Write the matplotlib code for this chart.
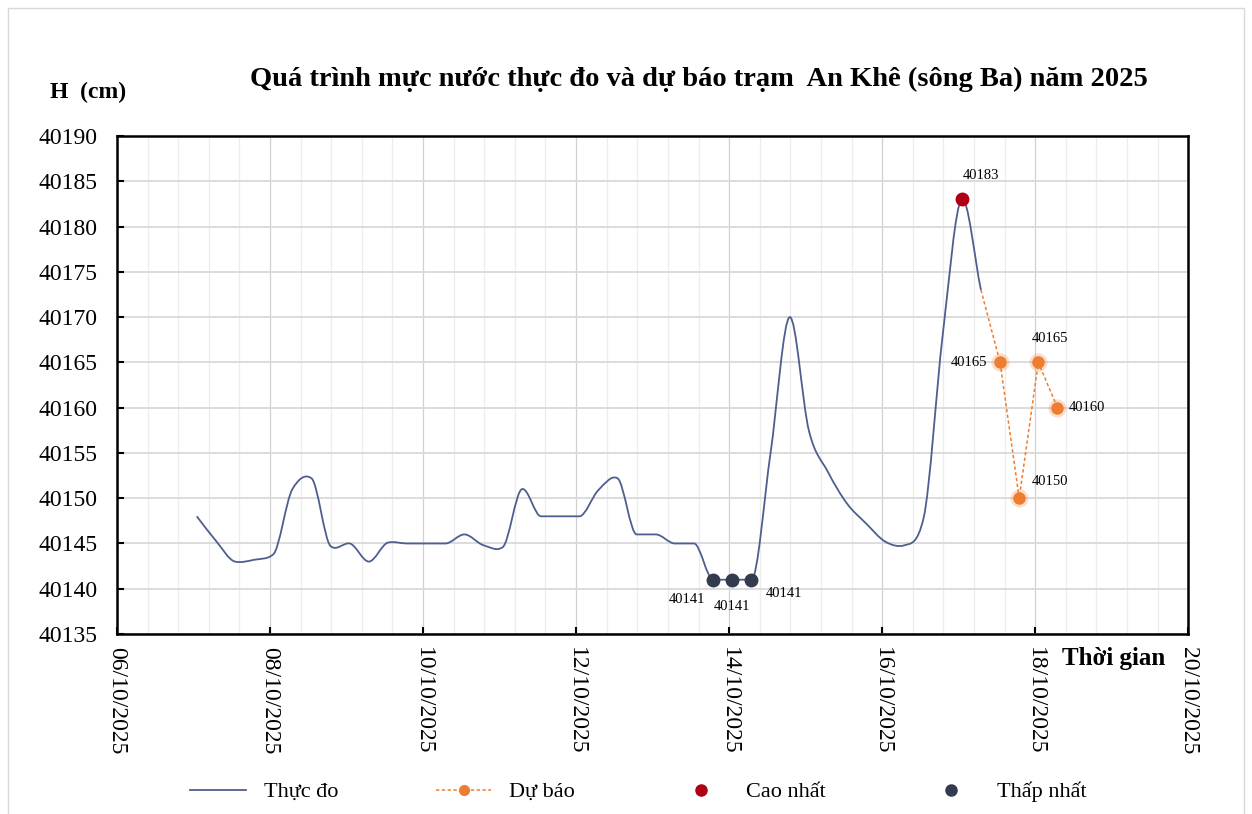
import numpy as np
import pandas as pd
import matplotlib
matplotlib.use('Agg')
import matplotlib.pyplot as plt
import matplotlib.dates as mdates
from matplotlib.path import Path
from matplotlib.patches import PathPatch, Rectangle
from matplotlib.lines import Line2D

plt.rcParams['font.family'] = ['Liberation Serif', 'DejaVu Serif']

# ---- data (6-hourly) ----
obs_start = '2025-10-07 01:00'
obs_H = [40148, 40145.3, 40143, 40143.2, 40143.8, 40151, 40152.2, 40144.7, 40145, 40143,
         40145.1, 40145, 40145, 40145, 40146, 40144.8, 40144.6, 40151, 40148, 40148,
         40148, 40150.9, 40152.2, 40146, 40146, 40145, 40145, 40141, 40141, 40141,
         40155, 40170, 40157.5, 40152.9, 40149.4, 40147.2, 40145.2, 40144.8, 40147.8, 40168,
         40183, 40173]
fc_start = '2025-10-17 07:00'
fc_H = [40173, 40165, 40150, 40165, 40160]
fc_lbl = [None, '40165', '40150', '40165', '40160']
max_idx = [40]
min_idx = [27, 28, 29]

obs_t = pd.date_range(obs_start, periods=len(obs_H), freq='6h')
fc_t = pd.date_range(fc_start, periods=len(fc_H), freq='6h')

C_OBS = '#4e5f8f'; C_FC = '#ed7d31'; C_MAX = '#b00014'; C_MIN = '#323c4e'

def smooth_path(x, y):
    # excel-like smoothed line: catmull-rom tangents, tamed near flats / steep rises
    x = np.asarray(x, float); y = np.asarray(y, float)
    d = np.diff(y) / np.diff(x)
    m = np.zeros_like(y)
    m[0], m[-1] = d[0], d[-1]
    for i in range(1, len(y) - 1):
        cr = (y[i+1] - y[i-1]) / (x[i+1] - x[i-1])
        if d[i-1] * d[i] > 0:
            m[i] = np.sign(cr) * min(abs(cr), 3 * min(abs(d[i-1]), abs(d[i])))
        elif d[i-1] * d[i] < 0:
            m[i] = 0.5 * cr
    verts = [(x[0], y[0])]; codes = [Path.MOVETO]
    for i in range(len(x) - 1):
        h = x[i+1] - x[i]
        verts += [(x[i] + h/3, y[i] + m[i]*h/3), (x[i+1] - h/3, y[i+1] - m[i+1]*h/3), (x[i+1], y[i+1])]
        codes += [Path.CURVE4]*3
    return Path(verts, codes)

fig = plt.figure(figsize=(12.52, 8.14), dpi=100)
fig.patches.append(Rectangle((0.006, -0.01), 0.988, 1.0, transform=fig.transFigure,
                             fill=False, edgecolor='#d9d9d9', lw=1.0))
ax = fig.add_axes([0.0935, 0.2211, 0.8555, 0.6118])

xo = mdates.date2num(obs_t)
ax.add_patch(PathPatch(smooth_path(xo, obs_H), fill=False, edgecolor=C_OBS, lw=1.3, zorder=3))
ax.plot(fc_t, fc_H, ls=(0, (2.2, 1.6)), color=C_FC, lw=1.1, zorder=3)
ax.plot(fc_t[1:], fc_H[1:], 'o', ms=13, color=C_FC, alpha=0.25, mec='none', zorder=4)
ax.plot(fc_t[1:], fc_H[1:], 'o', ms=9, color=C_FC, mec='none', zorder=5)
ax.plot(obs_t[max_idx], np.array(obs_H)[max_idx], 'o', ms=9, color=C_MAX, zorder=5)
ax.plot(obs_t[min_idx], np.array(obs_H)[min_idx], 'o', ms=9, color=C_MIN, zorder=5)

# data labels
lfs = 10.5
for t, v, lab, off, ha in [(fc_t[1], fc_H[1], fc_lbl[1], (-9, 0), 'right'),
                           (fc_t[2], fc_H[2], fc_lbl[2], (9, 12), 'left'),
                           (fc_t[3], fc_H[3], fc_lbl[3], (-5, 17), 'left'),
                           (fc_t[4], fc_H[4], fc_lbl[4], (8, 0), 'left')]:
    ax.annotate(lab, (t, v), xytext=off, textcoords='offset points', ha=ha, va='center', fontsize=lfs)
ax.annotate(f'{obs_H[max_idx[0]]:.0f}', (obs_t[max_idx[0]], obs_H[max_idx[0]]), xytext=(14, 17),
            textcoords='offset points', ha='center', va='center', fontsize=lfs)
for i, off, ha in zip(min_idx, [(-6, -14), (0, -19), (10, -10)], ['right', 'center', 'left']):
    ax.annotate(f'{obs_H[i]:.0f}', (obs_t[i], obs_H[i]), xytext=off, textcoords='offset points',
                ha=ha, va='center', fontsize=lfs)

# axes, ticks, grid
x0 = pd.Timestamp('2025-10-06'); x1 = pd.Timestamp('2025-10-20')
ax.set_xlim(x0, x1); ax.set_ylim(40135, 40190)
ax.set_xticks(pd.date_range(x0, x1, freq='2D'))
ax.set_xticks(pd.date_range(x0, x1, freq='576min'), minor=True)
ax.xaxis.set_major_formatter(mdates.DateFormatter('%d/%m/%Y'))
ax.set_yticks(np.arange(40135, 40191, 5))
ax.tick_params(axis='x', which='major', direction='in', length=5, width=1.5, labelsize=17,
               labelrotation=-90, pad=9)
ax.tick_params(axis='x', which='minor', length=0)
ax.tick_params(axis='y', direction='in', length=5, width=1.5, labelsize=17, pad=14)
for lab in ax.get_xticklabels():
    lab.set_ha('center'); lab.set_va('top')
ax.grid(True, which='major', axis='x', color='#d0d0d0', lw=0.9)
ax.grid(True, which='minor', axis='x', color='#ececec', lw=0.9)
ax.grid(True, which='major', axis='y', color='#d9d9d9', lw=1.3)
ax.set_axisbelow(True)
for s in ax.spines.values():
    s.set_linewidth(1.8); s.set_color('black')

fig.text(0.558, 0.902, 'Quá trình mực nước thực đo và dự báo trạm  An Khê (sông Ba) năm 2025',
         ha='center', va='center', fontsize=20.5, fontweight='bold')
fig.text(0.04, 0.886, 'H  (cm)', ha='left', va='center', fontsize=17, fontweight='bold')
fig.text(0.848, 0.191, 'Thời gian', ha='left', va='center', fontsize=18, fontweight='bold')

handles = [Line2D([], [], color=C_OBS, lw=1.3),
           Line2D([], [], color=C_FC, lw=1.1, ls=(0, (2.2, 1.6)), marker='o', ms=8, mec='none'),
           Line2D([], [], color=C_MAX, lw=0, marker='o', ms=8),
           Line2D([], [], color=C_MIN, lw=0, marker='o', ms=8)]
fig.legend(handles, ['Thực đo', 'Dự báo', 'Cao nhất', 'Thấp nhất'], loc='center',
           bbox_to_anchor=(0.51, 0.027), ncol=4, frameon=False, fontsize=16,
           columnspacing=4.4, handlelength=2.5, handletextpad=0.8)

fig.savefig('out.png', dpi=100)
